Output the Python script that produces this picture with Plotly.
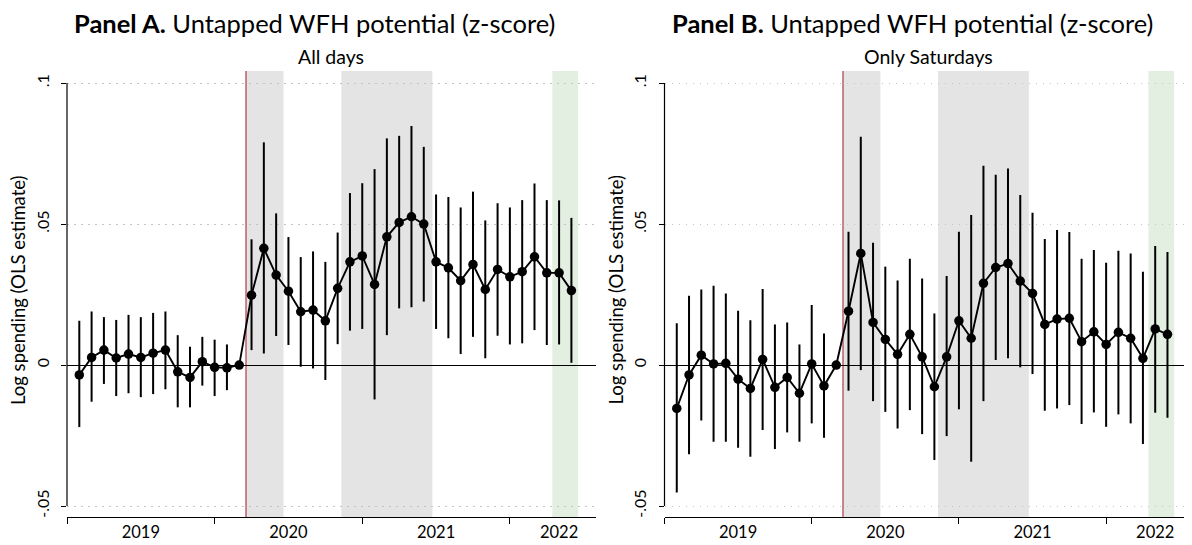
import plotly.graph_objects as go

# ---------------- data ----------------
months = list(range(41))  # Jan 2019 .. May 2022 (index 0 = Jan 2019)

a_coef = [-0.0035, 0.0027, 0.0053, 0.0025, 0.0039, 0.0027, 0.0042, 0.0053, -0.0024, -0.0044, 0.0012, -0.0008, -0.0010, 0.0,
          0.0248, 0.0414, 0.0319, 0.0262, 0.0189, 0.0195, 0.0157, 0.0272, 0.0366, 0.0387, 0.0286, 0.0455, 0.0506, 0.0526,
          0.0500, 0.0366, 0.0345, 0.0299, 0.0357, 0.0268, 0.0339, 0.0313, 0.0331, 0.0384, 0.0327, 0.0327, 0.0264]
a_lo = [-0.0220, -0.0130, -0.0067, -0.0110, -0.0100, -0.0114, -0.0103, -0.0086, -0.0150, -0.0150, -0.0073, -0.0110, -0.0089, 0.0,
        0.0053, 0.0041, 0.0103, 0.0071, -0.0006, -0.0012, -0.0053, 0.0074, 0.0122, 0.0128, -0.0122, 0.0106, 0.0201, 0.0205,
        0.0225, 0.0128, 0.0095, 0.0039, 0.0100, 0.0024, 0.0104, 0.0073, 0.0077, 0.0124, 0.0071, 0.0073, 0.0008]
a_hi = [0.0157, 0.0190, 0.0170, 0.0160, 0.0178, 0.0170, 0.0185, 0.0190, 0.0106, 0.0065, 0.0100, 0.0090, 0.0073, 0.0,
        0.0446, 0.0790, 0.0538, 0.0454, 0.0383, 0.0403, 0.0366, 0.0470, 0.0610, 0.0645, 0.0695, 0.0804, 0.0813, 0.0848,
        0.0774, 0.0605, 0.0596, 0.0559, 0.0615, 0.0513, 0.0574, 0.0559, 0.0585, 0.0644, 0.0585, 0.0584, 0.0522]

b_coef = [-0.0154, -0.0035, 0.0035, 0.0004, 0.0006, -0.0050, -0.0083, 0.0020, -0.0079, -0.0044, -0.0100, 0.0004, -0.0074, 0.0,
          0.0191, 0.0396, 0.0151, 0.0091, 0.0038, 0.0109, 0.0029, -0.0077, 0.0029, 0.0157, 0.0095, 0.0290, 0.0346, 0.0360,
          0.0298, 0.0254, 0.0144, 0.0163, 0.0166, 0.0083, 0.0118, 0.0073, 0.0116, 0.0095, 0.0024, 0.0128, 0.0109]
b_lo = [-0.0452, -0.0316, -0.0197, -0.0272, -0.0272, -0.0293, -0.0325, -0.0230, -0.0298, -0.0239, -0.0272, -0.0207, -0.0258, 0.0,
        -0.0091, -0.0018, -0.0128, -0.0166, -0.0225, -0.0160, -0.0245, -0.0337, -0.0252, -0.0157, -0.0343, -0.0128, 0.0018, 0.0024,
        -0.0008, -0.0032, -0.0162, -0.0154, -0.0142, -0.0209, -0.0168, -0.0219, -0.0175, -0.0207, -0.0280, -0.0169, -0.0187]
b_hi = [0.0148, 0.0246, 0.0268, 0.0281, 0.0254, 0.0193, 0.0159, 0.0270, 0.0144, 0.0151, 0.0073, 0.0213, 0.0112, 0.0,
        0.0473, 0.0810, 0.0434, 0.0349, 0.0300, 0.0377, 0.0307, 0.0183, 0.0316, 0.0473, 0.0532, 0.0707, 0.0675, 0.0697,
        0.0603, 0.0540, 0.0447, 0.0479, 0.0472, 0.0377, 0.0408, 0.0363, 0.0405, 0.0396, 0.0331, 0.0422, 0.0401]

year_labels = ["2019", "2020", "2021", "2022"]
year_label_pos = [5, 17, 29, 39]
year_tick_pos = [-1, 11, 23, 35]
y_ticks = [-0.05, 0, 0.05, 0.1]
y_tick_text = ["-.05", "0", ".05", ".1"]

covid_line = 13.55
gray_periods = [(13.55, 16.6), (21.3, 28.7)]
green_periods = [(38.45, 40.55)]

panel_labels = ["Panel A.", "Panel B."]
title_rest = "Untapped WFH potential (z-score)"
subtitles = ["All days", "Only Saturdays"]

panels = [
    dict(label=panel_labels[0], sub=subtitles[0], coef=a_coef, lo=a_lo, hi=a_hi),
    dict(label=panel_labels[1], sub=subtitles[1], coef=b_coef, lo=b_lo, hi=b_hi),
]

# ---------------- layout geometry ----------------
# page body has an 8px margin, so the figure is drawn 8px smaller / shifted
OFF = 8
W, H = 1192 - OFF, 545 - OFF
FONT = "Lato"
TOP, BOT = 71 - OFF, 517 - OFF
domains = [((67 - OFF) / W, (596 - OFF) / W), ((664.5 - OFF) / W, 1.0)]
title_centers = [(315 - OFF) / W, (912 - OFF) / W]
plot_h = BOT - TOP

fig = go.Figure()
shapes = []
annotations = []

for i, p in enumerate(panels):
    xa = "x" if i == 0 else "x2"
    ya = "y" if i == 0 else "y2"
    xname = "xaxis" if i == 0 else "xaxis2"
    yname = "yaxis" if i == 0 else "yaxis2"

    err_plus = [h - c for h, c in zip(p["hi"], p["coef"])]
    err_minus = [c - l for c, l in zip(p["coef"], p["lo"])]

    fig.add_trace(go.Scatter(
        x=months, y=p["coef"], xaxis=xa, yaxis=ya, mode="lines+markers",
        line=dict(color="black", width=1.9),
        marker=dict(color="black", size=9.5),
        error_y=dict(type="data", symmetric=False, array=err_plus, arrayminus=err_minus,
                     color="black", thickness=2, width=0),
        showlegend=False, hoverinfo="skip"))

    for (a, b) in gray_periods:
        shapes.append(dict(type="rect", xref=xa, yref=f"{ya} domain", x0=a, x1=b, y0=0, y1=1,
                           fillcolor="#e4e4e4", line=dict(width=0), layer="below"))
    for (a, b) in green_periods:
        shapes.append(dict(type="rect", xref=xa, yref=f"{ya} domain", x0=a, x1=b, y0=0, y1=1,
                           fillcolor="#e3efe0", line=dict(width=0), layer="below"))
    shapes.append(dict(type="line", xref=xa, yref=f"{ya} domain", x0=covid_line, x1=covid_line, y0=0, y1=1,
                       line=dict(color="#b23a48", width=1.2), layer="below"))
    # y axis line (only spanning tick range, Stata style)
    shapes.append(dict(type="line", xref=f"{xa} domain", yref=ya, x0=0, x1=0, y0=-0.05, y1=0.1,
                       line=dict(color="black", width=1.2), layer="above"))

    fig.layout[xname] = dict(
        domain=list(domains[i]), anchor=ya, range=[-1, 42],
        showgrid=False, zeroline=False, showline=True, linecolor="black", linewidth=1.2,
        tickmode="array", tickvals=year_label_pos, ticktext=year_labels, ticks="",
        tickfont=dict(family=FONT, size=16.5, color="black"),
        minor=dict(tickmode="array", tickvals=year_tick_pos, ticks="outside", ticklen=6,
                   tickcolor="black", tickwidth=1.2, showgrid=False),
        automargin=False, fixedrange=True)
    fig.layout[yname] = dict(
        domain=[0, 1], anchor=xa, range=[-0.0539, 0.1043],
        showgrid=True, gridcolor="#c4c4c4", griddash="1.5px,5.5px", gridwidth=1.2,
        zeroline=True, zerolinecolor="black", zerolinewidth=1.2,
        showline=False, tickmode="array", tickvals=y_ticks, ticktext=y_tick_text,
        ticks="outside", ticklen=5, tickcolor="black", tickwidth=1.2, tickangle=-90,
        ticklabelstandoff=6,
        tickfont=dict(family=FONT, size=16, color="black"),
        automargin=False, fixedrange=True)

    x0p, x1p = domains[i]
    title_html = f"<b>{p['label']}</b> {title_rest}"
    annotations.append(dict(text=title_html, xref="paper", yref="paper", x=title_centers[i],
                            y=1 + (TOP - (23 - OFF)) / plot_h, xanchor="center", yanchor="middle",
                            showarrow=False, font=dict(family=FONT, size=25.5, color="black")))
    annotations.append(dict(text=p["sub"], xref="paper", yref="paper", x=(x0p + x1p) / 2,
                            y=1 + (TOP - (56 - OFF)) / plot_h, xanchor="center", yanchor="middle",
                            showarrow=False, font=dict(family=FONT, size=19.5, color="black")))
    annotations.append(dict(text="Log spending (OLS estimate)", xref="paper", yref=f"{ya} domain",
                            x=(x0p * W - 49) / W, y=(517 - 290) / 446, textangle=-90,
                            xanchor="center", yanchor="middle",
                            showarrow=False, font=dict(family=FONT, size=18.5, color="black")))

fig.update_layout(
    width=W, height=H, template="none",
    margin=dict(l=0, r=0, t=TOP, b=H - BOT, autoexpand=False),
    paper_bgcolor="white", plot_bgcolor="white",
    shapes=shapes, annotations=annotations,
    font=dict(family=FONT, color="black"),
)

fig.write_html("out.html")
